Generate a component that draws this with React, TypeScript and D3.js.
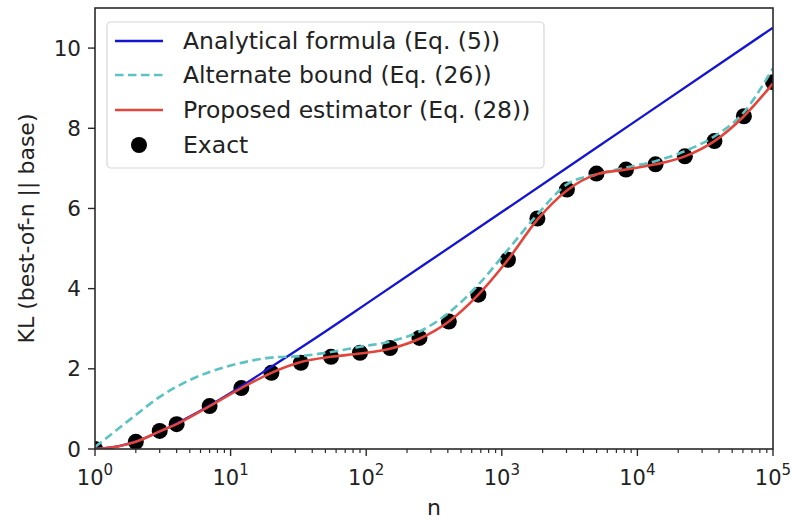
import * as d3 from 'd3'
import { useEffect, useRef } from 'react'

// n values of the exact points (log spaced)
const exactN = [1, 2, 3, 4, 7, 12, 20, 33, 55, 90, 150, 247, 407, 672, 1110, 1830, 3020, 4990, 8240, 13600, 22400, 37000, 61000, 100000]
const exactKL = [0, 0.18, 0.45, 0.62, 1.07, 1.52, 1.9, 2.15, 2.3, 2.4, 2.52, 2.77, 3.18, 3.85, 4.72, 5.75, 6.47, 6.87, 6.97, 7.1, 7.3, 7.68, 8.3, 9.15]

// analytical formula (blue)
const analyticN = [1, 1.5, 2, 3, 5, 10, 20, 50, 100, 1000, 10000, 100000]
const analyticKL = [0, 0.07, 0.19, 0.43, 0.81, 1.4, 2.05, 2.93, 3.62, 5.91, 8.21, 10.51]

// alternate bound (teal dashed)
const altN = [1, 1.3, 2, 3, 5, 10, 20, 33, 55, 90, 150, 247, 407, 672, 1110, 1830, 3020, 4990, 8240, 13600, 22400, 37000, 61000, 100000]
const altKL = [0.05, 0.35, 0.85, 1.3, 1.72, 2.08, 2.28, 2.32, 2.42, 2.55, 2.68, 2.93, 3.4, 4.1, 4.97, 5.85, 6.6, 6.85, 7.02, 7.18, 7.43, 7.8, 8.4, 9.5]

// proposed estimator (red)
const propN = [1, 1.5, 2, 3, 4, 7, 12, 20, 33, 55, 90, 150, 247, 407, 672, 1110, 1830, 3020, 4990, 8240, 13600, 22400, 37000, 61000, 100000]
const propKL = [0, 0.07, 0.18, 0.44, 0.62, 1.07, 1.52, 1.9, 2.17, 2.3, 2.38, 2.5, 2.75, 3.18, 3.85, 4.72, 5.72, 6.45, 6.85, 6.97, 7.1, 7.3, 7.68, 8.3, 9.12]

const legendLabels = ['Analytical formula (Eq. (5))', 'Alternate bound (Eq. (26))', 'Proposed estimator (Eq. (28))', 'Exact']
const yTicks = [0, 2, 4, 6, 8, 10]
const xDecades = [0, 1, 2, 3, 4, 5]

const W = 792
const H = 520
const margin = { left: 95, right: 19, top: 8, bottom: 71 }
const FONT = 'DejaVu Sans, sans-serif'
const TXT = '#222'
const AXC = '#2a2a2a'

export default function App() {
    const svgRef = useRef<SVGSVGElement>(null)

    useEffect(() => {
        const svg = d3.select(svgRef.current)
        svg.selectAll('*').remove()

        const x = d3.scaleLog().domain([1, 1e5]).range([margin.left, W - margin.right])
        const y = d3.scaleLinear().domain([0, 11]).range([H - margin.bottom, margin.top])

        svg.append('defs').append('clipPath').attr('id', 'plotclip')
            .append('rect')
            .attr('x', margin.left).attr('y', margin.top)
            .attr('width', W - margin.left - margin.right)
            .attr('height', H - margin.top - margin.bottom)

        const plot = svg.append('g').attr('clip-path', 'url(#plotclip)')

        // exact points first, lines go on top of them
        plot.selectAll('circle.exact')
            .data(exactN.map((n, i) => [n, exactKL[i]]))
            .join('circle')
            .attr('class', 'exact')
            .attr('cx', d => x(d[0]))
            .attr('cy', d => y(d[1]))
            .attr('r', 8)
            .attr('fill', '#000')

        const line = d3.line<number[]>()
            .x(d => x(d[0]))
            .y(d => y(d[1]))
            .curve(d3.curveMonotoneX)

        plot.append('path')
            .attr('d', line(analyticN.map((n, i) => [n, analyticKL[i]])))
            .attr('fill', 'none').attr('stroke', '#1414d4').attr('stroke-width', 2.3)

        plot.append('path')
            .attr('d', line(altN.map((n, i) => [n, altKL[i]])))
            .attr('fill', 'none').attr('stroke', '#5cc2c2').attr('stroke-width', 2.6)
            .attr('stroke-dasharray', '8.5,4.5')

        plot.append('path')
            .attr('d', line(propN.map((n, i) => [n, propKL[i]])))
            .attr('fill', 'none').attr('stroke', '#e2453b').attr('stroke-width', 2.6)

        // axes frame
        const bottom = H - margin.bottom
        const ax = svg.append('g')
        ax.append('rect')
            .attr('x', margin.left).attr('y', margin.top)
            .attr('width', W - margin.left - margin.right)
            .attr('height', H - margin.top - margin.bottom)
            .attr('fill', 'none').attr('stroke', AXC).attr('stroke-width', 1.6)

        // x ticks: majors + minors
        const minors: number[] = []
        xDecades.slice(0, -1).forEach(p => { for (let k = 2; k < 10; k++) minors.push(k * Math.pow(10, p)) })
        ax.selectAll('line.minor').data(minors).join('line')
            .attr('x1', d => x(d)).attr('x2', d => x(d))
            .attr('y1', bottom).attr('y2', bottom + 4)
            .attr('stroke', AXC).attr('stroke-width', 1.2)
        ax.selectAll('line.major').data(xDecades).join('line')
            .attr('x1', d => x(Math.pow(10, d))).attr('x2', d => x(Math.pow(10, d)))
            .attr('y1', bottom).attr('y2', bottom + 7)
            .attr('stroke', AXC).attr('stroke-width', 1.4)

        const xl = ax.selectAll('text.xt').data(xDecades).join('text')
            .attr('x', d => x(Math.pow(10, d)))
            .attr('y', bottom + 36)
            .attr('text-anchor', 'middle')
            .attr('font-family', FONT).attr('font-size', 21).attr('fill', TXT)
        xl.append('tspan').text('10')
        xl.append('tspan').attr('font-size', 15).attr('dy', -10).text(d => String(d))

        // y ticks
        ax.selectAll('line.yt').data(yTicks).join('line')
            .attr('x1', margin.left - 7).attr('x2', margin.left)
            .attr('y1', d => y(d)).attr('y2', d => y(d))
            .attr('stroke', AXC).attr('stroke-width', 1.4)
        ax.selectAll('text.yl').data(yTicks).join('text')
            .attr('x', margin.left - 14)
            .attr('y', d => y(d) + 7.5)
            .attr('text-anchor', 'end')
            .attr('font-family', FONT).attr('font-size', 21.5).attr('fill', TXT)
            .text(d => String(d))

        // axis titles
        svg.append('text')
            .attr('transform', `translate(34,${(margin.top + bottom) / 2}) rotate(-90)`)
            .attr('text-anchor', 'middle')
            .attr('font-family', FONT).attr('font-size', 22).attr('fill', TXT)
            .text('KL (best-of-n || base)')
        svg.append('text')
            .attr('x', (margin.left + W - margin.right) / 2)
            .attr('y', 515)
            .attr('text-anchor', 'middle')
            .attr('font-family', FONT).attr('font-size', 22).attr('fill', TXT)
            .text('n')

        // legend
        const lg = svg.append('g')
        lg.append('rect')
            .attr('x', 107).attr('y', 22).attr('width', 437).attr('height', 146)
            .attr('rx', 4)
            .attr('fill', 'white').attr('fill-opacity', 0.85)
            .attr('stroke', '#d6d6d6').attr('stroke-width', 1.2)
        const rowY = [41, 75, 110, 145]
        const styles = [
            { c: '#1414d4', w: 2.3, dash: null },
            { c: '#5cc2c2', w: 2.6, dash: '8.5,4.5' },
            { c: '#e2453b', w: 2.6, dash: null },
        ]
        styles.forEach((s, i) => {
            const l = lg.append('line')
                .attr('x1', 115).attr('x2', 163)
                .attr('y1', rowY[i]).attr('y2', rowY[i])
                .attr('stroke', s.c).attr('stroke-width', s.w)
            if (s.dash) l.attr('stroke-dasharray', s.dash)
        })
        lg.append('circle').attr('cx', 139).attr('cy', rowY[3]).attr('r', 8).attr('fill', '#000')
        lg.selectAll('text.lt').data(legendLabels).join('text')
            .attr('x', 183)
            .attr('y', (_, i) => rowY[i] + 8)
            .attr('font-family', FONT).attr('font-size', 23.5).attr('fill', TXT)
            .text(d => d)
    }, [])

    return (
        <svg ref={svgRef} width={W} height={H}
            style={{ position: 'absolute', left: 0, top: 0, background: 'white' }} />
    )
}
